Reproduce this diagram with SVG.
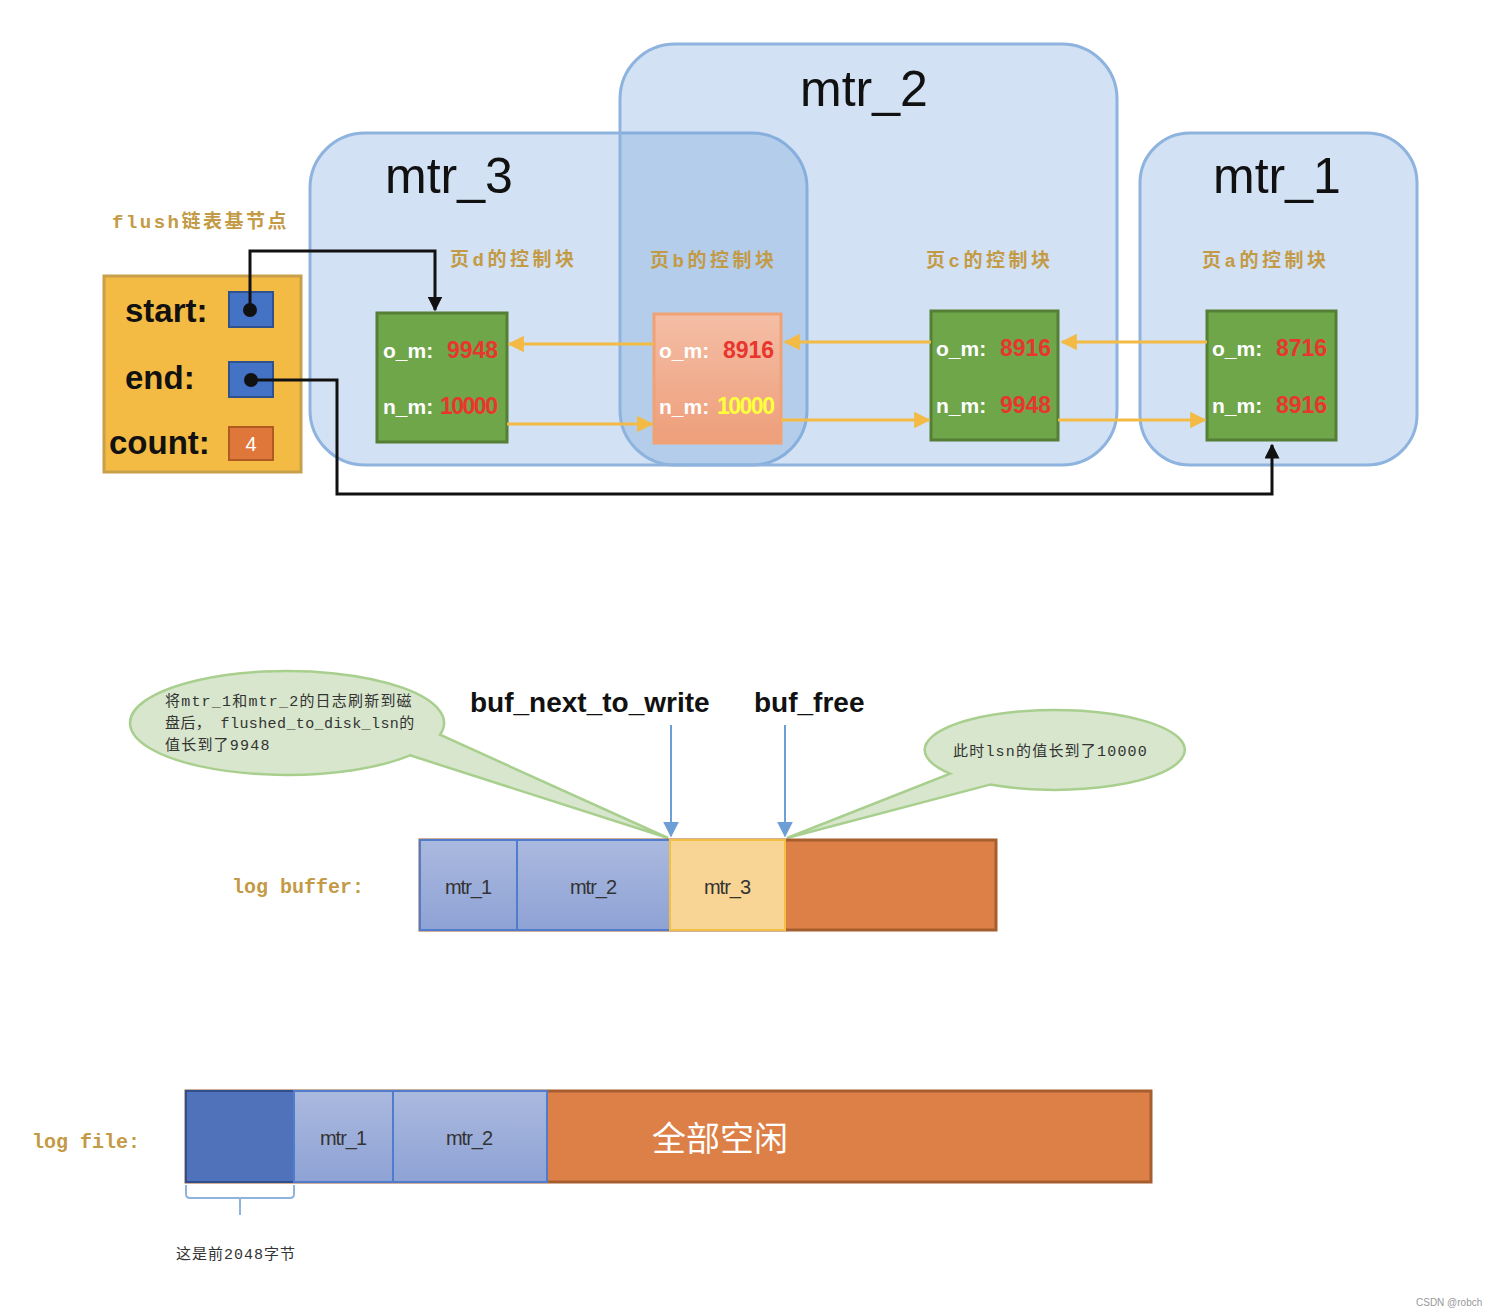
<svg xmlns="http://www.w3.org/2000/svg" width="1498" height="1316" viewBox="0 0 1498 1316">
<defs>
<style>
.grp{fill:#7faadc;fill-opacity:0.35;stroke:#8db3de;stroke-width:3}
.title{font-family:"Liberation Sans",Arial,sans-serif;font-size:50px;fill:#111}
.gold{font-family:"Liberation Mono","Noto Sans CJK SC",monospace;font-weight:bold;fill:#c39a45}
.cj{letter-spacing:3.5px}
.fl{font-family:"Liberation Sans",Arial,sans-serif;font-size:33px;font-weight:bold;fill:#111}
.pg{stroke-width:3}
.wt{font-family:"Liberation Sans",Arial,sans-serif;font-size:21px;font-weight:bold;fill:#fff}
.rd{font-family:"Liberation Sans",Arial,sans-serif;font-size:23px;font-weight:bold;fill:#e8352e}
.yl{stroke:#f3bb45;stroke-width:3;fill:none}
.bk{stroke:#111;stroke-width:3;fill:none}
.blu{stroke:#6d9fd6;stroke-width:2;fill:none}
.seg{font-family:"Liberation Sans",Arial,sans-serif;font-size:20px;fill:#333}
.ptr{font-family:"Liberation Sans",Arial,sans-serif;font-size:28px;font-weight:bold;fill:#111}
.call{fill:#d7e6cc;stroke:#a9cf8f;stroke-width:2.5}
.ct{font-family:"Liberation Mono","Noto Sans CJK SC",monospace;font-size:15px;fill:#333}
</style>
<marker id="ay" viewBox="0 0 10 10" refX="9" refY="5" markerWidth="5.5" markerHeight="5.5" orient="auto"><path d="M0,0 L10,5 L0,10 Z" fill="#f3bb45"/></marker>
<marker id="ak" viewBox="0 0 10 10" refX="9" refY="5" markerWidth="5" markerHeight="5" orient="auto"><path d="M0,0 L10,5 L0,10 Z" fill="#111"/></marker>
<marker id="ab" viewBox="0 0 10 10" refX="9" refY="5" markerWidth="8" markerHeight="8" orient="auto"><path d="M0,0 L10,5 L0,10 Z" fill="#6d9fd6"/></marker>
<linearGradient id="gb" x1="0" y1="0" x2="0" y2="1"><stop offset="0" stop-color="#aab9de"/><stop offset="1" stop-color="#8ea2d5"/></linearGradient>
<linearGradient id="gs" x1="0" y1="0" x2="0" y2="1"><stop offset="0" stop-color="#f4bea6"/><stop offset="1" stop-color="#ee9e7a"/></linearGradient>
</defs>
<rect width="1498" height="1316" fill="#fff"/>

<g id="mtr_3"><rect class="grp" x="310" y="133" width="497" height="332" rx="55"/><text class="title" x="385" y="193">mtr_3</text></g>
<g id="mtr_2"><rect class="grp" x="620" y="44" width="497" height="421" rx="55"/><text class="title" x="800" y="106">mtr_2</text></g>
<g id="mtr_1"><rect class="grp" x="1140" y="133" width="277" height="332" rx="50"/><text class="title" x="1213" y="193">mtr_1</text></g>

<g id="flush">
<text class="gold" x="112" y="228" font-size="19" letter-spacing="2.5">flush链表基节点</text>
<rect x="104" y="276" width="197" height="196" fill="#f4bb44" stroke="#c9a04a" stroke-width="3"/>
<text class="fl" x="125" y="322">start:</text>
<text class="fl" x="125" y="389">end:</text>
<text class="fl" x="109" y="454">count:</text>
<rect x="229" y="292" width="44" height="35" fill="#4472c4" stroke="#2f528f" stroke-width="2"/>
<rect x="229" y="362" width="44" height="35" fill="#4472c4" stroke="#2f528f" stroke-width="2"/>
<rect x="229" y="427" width="44" height="33" fill="#e0773a" stroke="#ae5a21" stroke-width="2"/>
<text x="251" y="451" font-family="Liberation Sans,Arial,sans-serif" font-size="20" fill="#fff" text-anchor="middle">4</text>
<circle cx="250" cy="310" r="7" fill="#111"/>
<circle cx="251" cy="380" r="7" fill="#111"/>
</g>

<g id="page_d">
<text class="gold cj" x="450" y="266" font-size="19">页d的控制块</text>
<rect class="pg" x="377" y="313" width="130" height="129" fill="#6fa64a" stroke="#557f35"/>
<text class="wt" x="383" y="358">o_m:</text><text class="rd" x="447" y="358">9948</text>
<text class="wt" x="383" y="414">n_m:</text><text class="rd" x="440" y="414" letter-spacing="-1.5">10000</text>
</g>
<g id="page_b">
<text class="gold cj" x="650" y="267" font-size="19">页b的控制块</text>
<rect class="pg" x="654" y="314" width="127" height="129" fill="url(#gs)" stroke="#f0a274"/>
<text class="wt" x="659" y="358">o_m:</text><text class="rd" x="723" y="358">8916</text>
<text class="wt" x="659" y="414">n_m:</text><text class="rd" x="717" y="414" letter-spacing="-1.5" style="fill:#ffff3c">10000</text>
</g>
<g id="page_c">
<text class="gold cj" x="926" y="267" font-size="19">页c的控制块</text>
<rect class="pg" x="931" y="311" width="127" height="129" fill="#6fa64a" stroke="#557f35"/>
<text class="wt" x="936" y="356">o_m:</text><text class="rd" x="1000" y="356">8916</text>
<text class="wt" x="936" y="413">n_m:</text><text class="rd" x="1000" y="413">9948</text>
</g>
<g id="page_a">
<text class="gold cj" x="1202" y="267" font-size="19">页a的控制块</text>
<rect class="pg" x="1207" y="311" width="129" height="129" fill="#6fa64a" stroke="#557f35"/>
<text class="wt" x="1212" y="356">o_m:</text><text class="rd" x="1276" y="356">8716</text>
<text class="wt" x="1212" y="413">n_m:</text><text class="rd" x="1276" y="413">8916</text>
</g>

<g id="connectors">
<path class="yl" d="M1207,342 H1062" marker-end="url(#ay)"/>
<path class="yl" d="M931,342 H785" marker-end="url(#ay)"/>
<path class="yl" d="M654,344 H509" marker-end="url(#ay)"/>
<path class="yl" d="M507,424 H652" marker-end="url(#ay)"/>
<path class="yl" d="M781,420 H929" marker-end="url(#ay)"/>
<path class="yl" d="M1058,420 H1205" marker-end="url(#ay)"/>
<path class="bk" d="M250,310 V251 H435 V310" marker-end="url(#ak)"/>
<path class="bk" d="M251,380 H337 V494 H1272 V445" marker-end="url(#ak)"/>
<path class="blu" d="M671,725 V836" marker-end="url(#ab)"/>
<path class="blu" d="M785,725 V836" marker-end="url(#ab)"/>
</g>

<g id="callout_left">
<path class="call" d="M410,755.3 L668,838 L440,734.7 A157,52 0 1 0 410,755.3 Z"/>
<text class="ct" x="165" y="706" letter-spacing="1.2">将mtr_1和mtr_2的日志刷新到磁</text>
<text class="ct" x="165" y="728" letter-spacing="0.4">盘后， flushed_to_disk_lsn的</text>
<text class="ct" x="165" y="750" letter-spacing="1.2">值长到了9948</text>
</g>
<g id="callout_right">
<path class="call" d="M990,784.6 L787,838 L950,773.6 A130,40 0 1 1 990,784.6 Z"/>
<text class="ct" x="953" y="756" letter-spacing="1.2">此时lsn的值长到了10000</text>
</g>

<g id="pointers">
<text class="ptr" x="470" y="712">buf_next_to_write</text>
<text class="ptr" x="754" y="712">buf_free</text>
</g>

<g id="log_buffer">
<text class="gold" x="232" y="893" font-size="20">log buffer:</text>
<rect x="420" y="840" width="576" height="90" fill="#dd8047" stroke="#a65e2e" stroke-width="3"/>
<rect x="420" y="840" width="97" height="90" fill="url(#gb)" stroke="#4f7ccc" stroke-width="2"/>
<rect x="517" y="840" width="153" height="90" fill="url(#gb)" stroke="#4f7ccc" stroke-width="2"/>
<rect x="670" y="840" width="115" height="90" fill="#f8d594" stroke="#f2c045" stroke-width="2"/>
<text class="seg" x="468" y="894" text-anchor="middle" letter-spacing="-1">mtr_1</text>
<text class="seg" x="593" y="894" text-anchor="middle" letter-spacing="-1">mtr_2</text>
<text class="seg" x="727" y="894" text-anchor="middle" letter-spacing="-1">mtr_3</text>
</g>

<g id="log_file">
<text class="gold" x="32" y="1148" font-size="20">log file:</text>
<rect x="186" y="1091" width="965" height="91" fill="#dd8047" stroke="#a65e2e" stroke-width="3"/>
<rect x="186" y="1091" width="108" height="91" fill="#4f72bb" stroke="#2f4f8f" stroke-width="2"/>
<rect x="294" y="1091" width="99" height="91" fill="url(#gb)" stroke="#4f7ccc" stroke-width="2"/>
<rect x="393" y="1091" width="154" height="91" fill="url(#gb)" stroke="#4f7ccc" stroke-width="2"/>
<text class="seg" x="343" y="1145" text-anchor="middle" letter-spacing="-1">mtr_1</text>
<text class="seg" x="469" y="1145" text-anchor="middle" letter-spacing="-1">mtr_2</text>
<text x="720" y="1151" font-family="Noto Sans CJK SC,sans-serif" font-size="34" fill="#fff" text-anchor="middle">全部空闲</text>
<path d="M186,1185 V1194 Q186,1198 190,1198 H290 Q294,1198 294,1194 V1185 M240,1198 V1215" stroke="#8db3de" stroke-width="2" fill="none"/>
<text class="ct" x="176" y="1259" letter-spacing="1">这是前2048字节</text>
</g>

<text x="1416" y="1306" font-family="Liberation Sans,Arial,sans-serif" font-size="10" fill="#999">CSDN @robch</text>
</svg>
